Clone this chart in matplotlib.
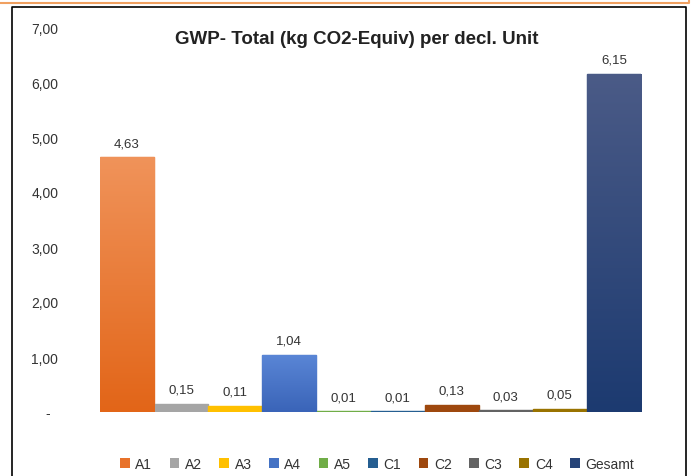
import numpy as np
import matplotlib
matplotlib.use("Agg")
from matplotlib import pyplot as plt
from matplotlib.patches import Patch
from matplotlib.lines import Line2D
from matplotlib.colors import LinearSegmentedColormap

categories = ["A1", "A2", "A3", "A4", "A5", "C1", "C2", "C3", "C4", "Gesamt"]
values = [4.63, 0.15, 0.11, 1.04, 0.01, 0.01, 0.13, 0.03, 0.05, 6.15]
colors = ["#e8722a", "#a5a5a5", "#ffc000", "#4472c4", "#70ad47",
          "#255e91", "#9e480e", "#636363", "#997300", "#264478"]
# top/bottom shades for the bars that carry a gradient
gradients = {0: ("#f0935a", "#e26518"), 3: ("#5a86d6", "#3a64b8"),
             9: ("#4b5b87", "#1c3a70")}
y_ticks = [0, 1, 2, 3, 4, 5, 6, 7]
y_tick_labels = ["-  ", "1,00", "2,00", "3,00", "4,00", "5,00", "6,00", "7,00"]
title = "GWP- Total (kg CO2-Equiv) per decl. Unit"

plt.rcParams["font.family"] = ["Liberation Sans", "DejaVu Sans"]

fig = plt.figure(figsize=(6.94, 4.77), dpi=100)
W, H = 694, 477
ax = fig.add_axes([100 / W, 1 - 413 / H, 541 / W, (413 - 28) / H])

x = np.arange(len(categories))
bars = ax.bar(x, values, width=1.0, color=colors, edgecolor=colors,
              linewidth=1.0, zorder=2)

for i, (top, bot) in gradients.items():
    b = bars[i]
    cmap = LinearSegmentedColormap.from_list("g%d" % i, [bot, top])
    grad = np.linspace(0, 1, 256).reshape(-1, 1)
    im = ax.imshow(grad, cmap=cmap, aspect="auto", origin="lower",
                   extent=(b.get_x(), b.get_x() + b.get_width(), 0, b.get_height()),
                   zorder=3)
    im.set_clip_path(b)

for xi, v in zip(x, values):
    ax.annotate(("%.2f" % v).replace(".", ","), (xi, v), xytext=(0, 6),
                textcoords="offset points", ha="center", va="bottom",
                fontsize=9.5, color="#333333")

ax.set_xlim(-0.5, len(categories) - 0.5)
ax.set_ylim(0, 7)
ax.set_xticks([])
ax.set_yticks(y_ticks)
ax.set_yticklabels(y_tick_labels, fontsize=10, color="#333333")
ax.tick_params(axis="y", length=0, pad=30)
for s in ax.spines.values():
    s.set_visible(False)
ax.axhline(0, color="#d9d9d9", lw=0.8, zorder=1)

fig.text(357 / W, 1 - 40 / H, title, ha="center", va="center",
         fontsize=13.5, fontweight="bold", color="#222222")

handles = [Patch(facecolor=c, edgecolor="none") for c in colors]
fig.legend(handles, categories, loc="center", bbox_to_anchor=(377 / W, 1 - 465 / H),
           ncol=len(categories), frameon=False, fontsize=10,
           handlelength=0.7, handleheight=0.7, handletextpad=0.4,
           columnspacing=1.25, labelcolor="#333333")

# spreadsheet frame around the chart
fig.add_artist(Line2D([12 / W, 12 / W, 686 / W, 686 / W],
                      [0, 1 - 8 / H, 1 - 8 / H, 0], color="black", lw=1.2))
fig.add_artist(Line2D([0, 689 / W, 689 / W], [1 - 4 / H, 1 - 4 / H, 1],
                      color="#f0a060", lw=1.5))

fig.savefig("out.png", dpi=100)
